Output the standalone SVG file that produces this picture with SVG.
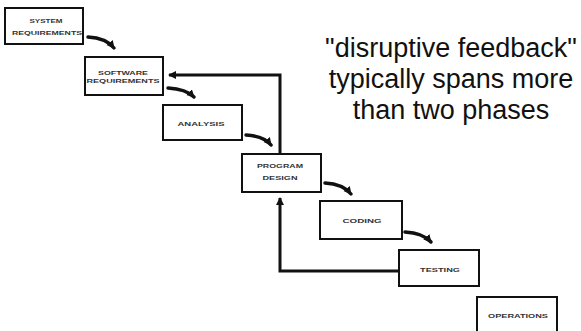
<svg xmlns="http://www.w3.org/2000/svg" width="581" height="331" viewBox="0 0 581 331">
<style>
.box{fill:#fff;stroke:#111;stroke-width:2}
.lbl{font-family:"Liberation Sans",Arial,sans-serif;font-weight:bold;font-size:6px;fill:#333;text-anchor:middle}
.flow{fill:none;stroke:#111;stroke-width:3.5;stroke-linecap:round}
.fb{fill:none;stroke:#111;stroke-width:3}
.note{font-family:"Liberation Sans",Arial,sans-serif;font-size:27px;fill:#111;text-anchor:middle}
</style>
<defs>
<marker id="ah" markerUnits="userSpaceOnUse" markerWidth="10" markerHeight="10" refX="7" refY="4" orient="auto">
<path d="M0,0 L8,4 L0,8 Z" fill="#111"/>
</marker>
</defs>
<rect width="581" height="331" fill="#fff"/>
<g id="connectors">
<path class="flow" d="M88,37 Q106,38 114,48" marker-end="url(#ah)"/>
<path class="flow" d="M168,88 Q186,89 194,97" marker-end="url(#ah)"/>
<path class="flow" d="M246,135 Q264,136 271,145" marker-end="url(#ah)"/>
<path class="flow" d="M325,183 Q343,184 351,194" marker-end="url(#ah)"/>
<path class="flow" d="M405,232 Q423,233 431,242" marker-end="url(#ah)"/>
<path class="fb" d="M280,154 L280,75 L169,75" marker-end="url(#ah)"/>
<path class="fb" d="M399,271 L280,271 L280,198" marker-end="url(#ah)"/>
</g>
<g id="system-requirements">
<rect class="box" x="5" y="8" width="78" height="36"/>
<text class="lbl" x="46" y="23" textLength="33" lengthAdjust="spacingAndGlyphs">SYSTEM</text>
<text class="lbl" x="47" y="35" textLength="70" lengthAdjust="spacingAndGlyphs">REQUIREMENTS</text>
</g>
<g id="software-requirements">
<rect class="box" x="85" y="57" width="78" height="38"/>
<text class="lbl" x="123" y="75" textLength="50" lengthAdjust="spacingAndGlyphs">SOFTWARE</text>
<text class="lbl" x="123" y="83" textLength="73" lengthAdjust="spacingAndGlyphs">REQUIREMENTS</text>
</g>
<g id="analysis">
<rect class="box" x="163" y="105" width="79" height="35"/>
<text class="lbl" x="201" y="126" textLength="47" lengthAdjust="spacingAndGlyphs">ANALYSIS</text>
</g>
<g id="program-design">
<rect class="box" x="242" y="154" width="79" height="38"/>
<text class="lbl" x="280" y="168" textLength="46" lengthAdjust="spacingAndGlyphs">PROGRAM</text>
<text class="lbl" x="280" y="180" textLength="35" lengthAdjust="spacingAndGlyphs">DESIGN</text>
</g>
<g id="coding">
<rect class="box" x="320" y="201" width="82" height="38"/>
<text class="lbl" x="362" y="223" textLength="39" lengthAdjust="spacingAndGlyphs">CODING</text>
</g>
<g id="testing">
<rect class="box" x="399" y="250" width="80" height="36"/>
<text class="lbl" x="440" y="272" textLength="40" lengthAdjust="spacingAndGlyphs">TESTING</text>
</g>
<g id="operations">
<rect class="box" x="477" y="297" width="80" height="40"/>
<text class="lbl" x="518" y="318" textLength="60" lengthAdjust="spacingAndGlyphs">OPERATIONS</text>
</g>
<g id="note">
<text class="note" x="451" y="57">"disruptive feedback"</text>
<text class="note" x="451" y="88">typically spans more</text>
<text class="note" x="451" y="119">than two phases</text>
</g>
</svg>
